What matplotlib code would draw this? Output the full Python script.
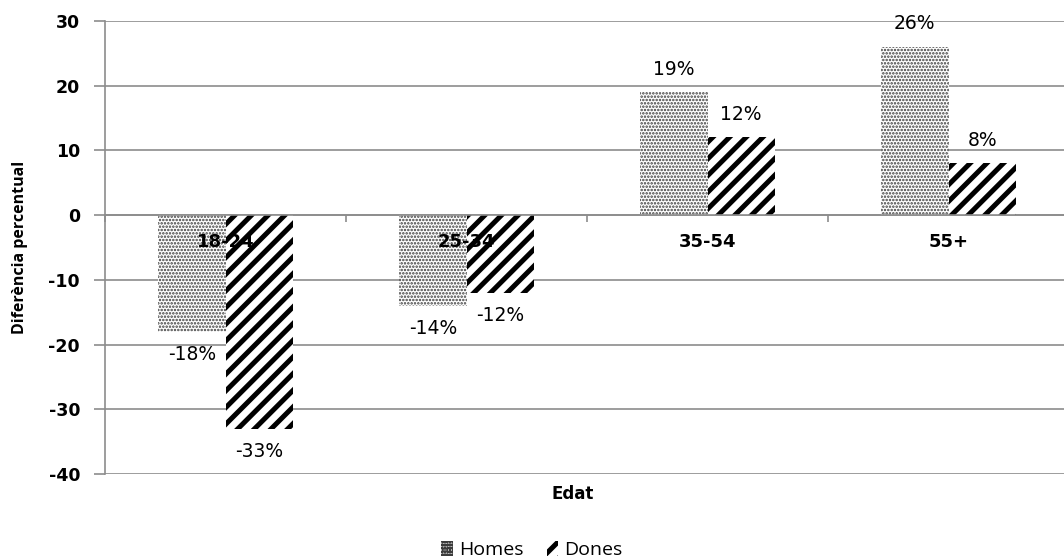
import numpy as np
import matplotlib.pyplot as plt
import matplotlib as mpl

# Data
categories = ['18-24', '25-34', '35-54', '55+']
homes = [-18, -14, 19, 26]
dones = [-33, -12, 12, 8]
yticks = [-40, -30, -20, -10, 0, 10, 20, 30]

plt.rcParams['font.family'] = ['DejaVu Sans']

fig = plt.figure(figsize=(10.64, 5.6), dpi=100)
ax = fig.add_axes([105 / 1064, 0.1536, 964 / 1064, 0.8089])

x = np.arange(len(categories))
w = 0.28

mpl.rcParams['hatch.linewidth'] = 1.2
b1 = ax.bar(x - w / 2, homes, w, color='white', edgecolor='#3c3c3c',
            linewidth=0, hatch='.....', label='Homes', zorder=2)
mpl.rcParams['hatch.linewidth'] = 3.6
b2 = ax.bar(x + w / 2, dones, w, color='white', edgecolor='black',
            linewidth=0, hatch='//', label='Dones', zorder=2)

for bars, vals in [(b1, homes), (b2, dones)]:
    for r, v in zip(bars, vals):
        cx = r.get_x() + r.get_width() / 2
        off = 16.5 if v >= 0 else -16.5
        ax.annotate(f'{v}%', (cx, v), xytext=(0, off), textcoords='offset points',
                    ha='center', va='center', fontsize=13.5)

# category names sit just under the zero line, over the bars
for xi, c in zip(x, categories):
    ax.text(xi, -4.2, c, ha='center', va='center', fontweight='bold',
            fontsize=13, zorder=5)

ax.spines['bottom'].set_position(('data', 0))
ax.set_ylim(-40, 30)
ax.set_xlim(-0.5, len(categories) - 0.5)
ax.set_yticks(yticks)
ax.set_yticklabels([str(t) for t in yticks], fontweight='bold', fontsize=12.5)
ax.yaxis.grid(True, color='#8c8c8c', linewidth=1.2)
ax.set_axisbelow(True)

ax.set_xticks(np.arange(len(categories) + 1) - 0.5)
ax.set_xticklabels([])
ax.tick_params(axis='x', length=5, color='#8c8c8c', width=1.2)
ax.tick_params(axis='y', length=8, color='#8c8c8c', width=1.2, pad=10)
ax.spines['bottom'].set_color('#8c8c8c')
ax.spines['bottom'].set_linewidth(1.2)
ax.spines['left'].set_color('#8c8c8c')
ax.spines['left'].set_linewidth(1.2)
ax.spines['top'].set_visible(False)
ax.spines['right'].set_visible(False)

ax.set_ylabel('Diferència percentual', fontweight='bold', fontsize=11.5,
              family=['Open Sans', 'DejaVu Sans'])
ax.yaxis.set_label_coords(-0.08, 0.5)
fig.text(0.5385, 0.118, 'Edat', ha='center', va='center', fontweight='bold', fontsize=12)

fig.legend(handles=[b1, b2], loc='center', bbox_to_anchor=(0.5, 0.018), ncol=2,
           frameon=False, prop={'family': ['Open Sans', 'DejaVu Sans'], 'size': 14},
           handlelength=0.6, handleheight=0.8, handletextpad=0.3, columnspacing=1.2)

fig.savefig('out.png', dpi=100)
